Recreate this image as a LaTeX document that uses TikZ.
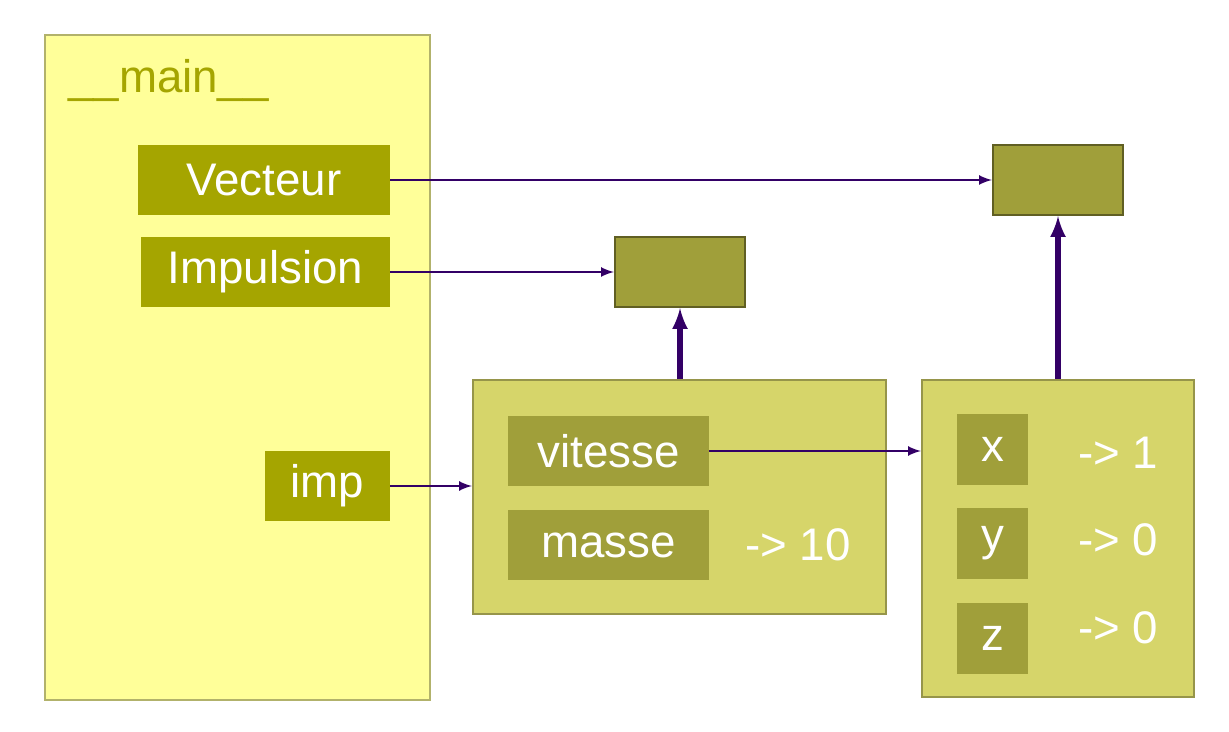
\documentclass[tikz,border=0pt]{standalone}
\usepackage{fontspec}
\setmainfont{Liberation Sans}
\usetikzlibrary{positioning}
\definecolor{frameyel}{HTML}{FFFF99}
\definecolor{olive}{HTML}{A5A500}
\definecolor{objbox}{HTML}{A09F3A}
\definecolor{instbox}{HTML}{D6D56A}
\definecolor{ptr}{HTML}{330066}
\tikzset{
  lbl/.style={fill=olive, text=white, font=\fontsize{26}{30}\selectfont, inner sep=0pt},
  cls/.style={fill=objbox, draw=objbox!60!black, line width=1.2pt, minimum width=2.6cm, minimum height=1.4cm},
  inst/.style={fill=instbox, draw=instbox!70!black, line width=1.2pt, inner sep=0pt},
  attr/.style={fill=objbox, text=white, font=\fontsize{26}{30}\selectfont, inner sep=0pt},
  val/.style={text=white, font=\fontsize{26}{30}\selectfont},
  ref/.style={draw=ptr, line width=1.5pt, -latex},
  up/.style={draw=ptr, line width=3pt, -latex}
}
\begin{document}
\begin{tikzpicture}[x=0.02cm, y=-0.02cm]
\useasboundingbox (0,0) rectangle (1229,732);

% main frame
\node [fill=frameyel, draw=frameyel!70!black, line width=1.2pt, minimum width=7.7cm, minimum height=13.3cm, inner sep=0pt] (main) at (237.5,367.5) {};
\node [anchor=west, text=olive, font=\fontsize{26}{30}\selectfont] (mainlbl) at (62,80) {\_\_main\_\_};

\node [lbl, minimum width=5.04cm, minimum height=1.4cm] (vec) at (264,180) {Vecteur};
\node [lbl, minimum width=4.98cm, minimum height=1.4cm] (imp) at (265.5,272) {Impulsion};
\node [lbl, minimum width=2.5cm, minimum height=1.4cm] (var) at (327.5,486) {imp};

% classes
\node [cls] (impcls) at (680,272) {};
\node [cls] (veccls) at (1058,180) {};

% instances
\node [inst, minimum width=8.26cm, minimum height=4.68cm] (impobj) at (679.5,497) {};
\node [attr, minimum width=4.02cm, minimum height=1.4cm] (vit) at (608.5,451) {vitesse};
\node [attr, minimum width=4.02cm, minimum height=1.4cm] (mas) at (608.5,545) {masse};
\node [val] (masv) at (798,545) {-> 10};

\node [inst, minimum width=5.44cm, minimum height=6.34cm] (vecobj) at (1058,538.5) {};
\node [attr, minimum width=1.42cm, minimum height=1.42cm] (ax) at (992.5,449.5) {x};
\node [attr, minimum width=1.42cm, minimum height=1.42cm] (ay) at (992.5,543.5) {y};
\node [attr, minimum width=1.42cm, minimum height=1.42cm] (az) at (992.5,638.5) {z};
\node [val] (axv) at (1118,453) {-> 1};
\node [val] (ayv) at (1118,540) {-> 0};
\node [val] (azv) at (1118,628) {-> 0};

% pointers
\draw [ref] (vec.east) -- (veccls.west);
\draw [ref] (imp.east) -- (impcls.west);
\draw [ref] (var.east) -- (var.east -| impobj.west);
\draw [ref] (vit.east) -- (vit.east -| vecobj.west);
\draw [up] (impobj.north -| impcls) -- (impcls.south);
\draw [up] (vecobj.north) -- (veccls.south);

\end{tikzpicture}
\end{document}
